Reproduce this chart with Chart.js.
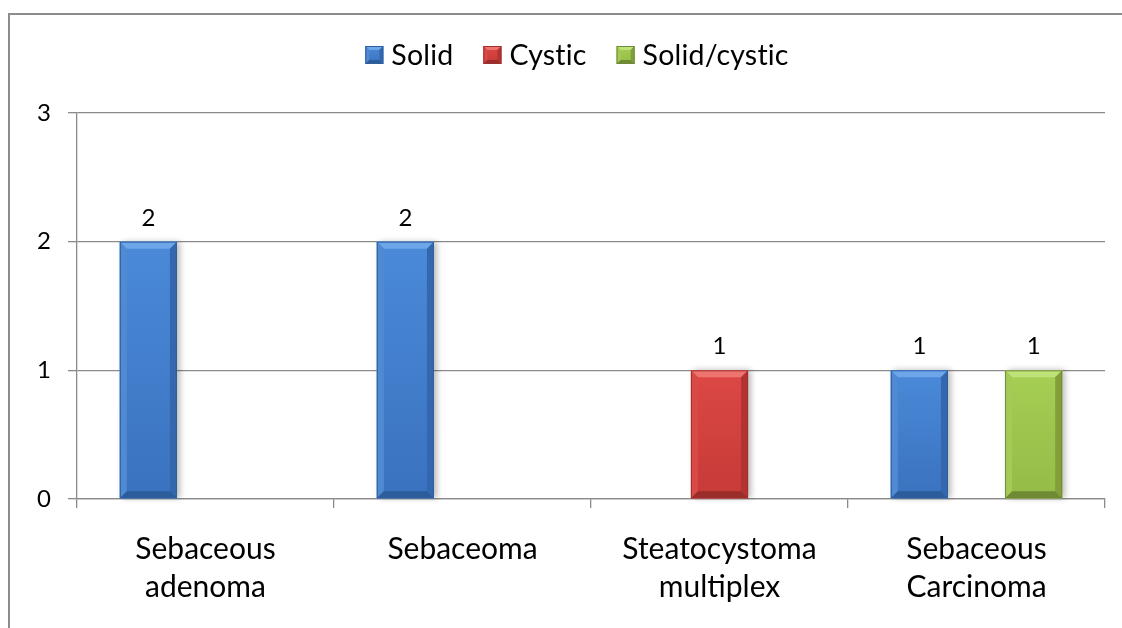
<!DOCTYPE html>
<html>
<head>
<meta charset="utf-8">
<script src="https://cdn.jsdelivr.net/npm/chart.js@4.4.1/dist/chart.umd.min.js"></script>
<style>
  html, body { margin: 0; padding: 0; background: #fff; overflow: hidden; }
  #frame { position: absolute; left: 8px; top: 13px; width: 1300px; height: 800px;
           border-left: 2px solid #8c8c8c; border-top: 2px solid #8c8c8c; }
  #wrap { position: absolute; left: 0; top: 0; width: 1122px; height: 628px; }
</style>
</head>
<body>
<div id="frame"></div>
<div id="wrap"><canvas id="c" width="1122" height="628"></canvas></div>
<script>
// Lesion types and counts per growth pattern
const categories = [["Sebaceous", "adenoma"], ["Sebaceoma"], ["Steatocystoma", "multiplex"], ["Sebaceous", "Carcinoma"]];
const seriesNames = ["Solid", "Cystic", "Solid/cystic"];
const solid = [2, 2, null, 1];
const cystic = [null, null, 1, null];
const solidCystic = [null, null, null, 1];
const yTicks = [0, 1, 2, 3];

// Bevelled fill shades for each series
const palettes = [
  { faceTop: "#4a8ad8", faceBot: "#3a72bf", top: "#6ea6ea", left: "#4f8ad3", right: "#3467ad", bottom: "#2d5c9a", edge: "#2f5f9e" },
  { faceTop: "#dc4845", faceBot: "#c63a37", top: "#ee7470", left: "#d94a47", right: "#b23330", bottom: "#9a2c2a", edge: "#a0302d" },
  { faceTop: "#a6cf55", faceBot: "#94bb47", top: "#c0e27a", left: "#a3cb56", right: "#839f3c", bottom: "#708a34", edge: "#6f8a35" }
];

const FONT = "Lato, 'Open Sans', sans-serif";

function poly(ctx, pts, fill) {
  ctx.beginPath();
  ctx.moveTo(pts[0][0], pts[0][1]);
  for (let i = 1; i < pts.length; i++) ctx.lineTo(pts[i][0], pts[i][1]);
  ctx.closePath();
  ctx.fillStyle = fill;
  ctx.fill();
}

function bevelBox(ctx, l, t, r, b, k, pal) {
  const g = ctx.createLinearGradient(0, t, 0, b);
  g.addColorStop(0, pal.faceTop);
  g.addColorStop(1, pal.faceBot);
  ctx.fillStyle = g;
  ctx.fillRect(l, t, r - l, b - t);
  poly(ctx, [[l, t], [r, t], [r - k, t + k], [l + k, t + k]], pal.top);
  poly(ctx, [[l, t], [l + k, t + k], [l + k, b - k], [l, b]], pal.left);
  poly(ctx, [[r, t], [r - k, t + k], [r - k, b - k], [r, b]], pal.right);
  poly(ctx, [[l, b], [r, b], [r - k, b - k], [l + k, b - k]], pal.bottom);
  ctx.strokeStyle = pal.edge;
  ctx.lineWidth = 1;
  ctx.strokeRect(l + 0.5, t + 0.5, r - l - 1, b - t - 1);
}

function barRect(bar) {
  const p = bar.getProps(["x", "y", "base", "width"], true);
  return { l: p.x - p.width / 2, r: p.x + p.width / 2, t: Math.min(p.y, p.base), b: Math.max(p.y, p.base), x: p.x };
}

// Soft shadow behind bars, bevel on top, value labels above
const barStyle = {
  id: "barStyle",
  beforeDatasetsDraw(chart) {
    const ctx = chart.ctx;
    ctx.save();
    ctx.shadowColor = "rgba(0,0,0,0.28)";
    ctx.shadowBlur = 6;
    ctx.shadowOffsetX = 3;
    ctx.shadowOffsetY = 0;
    chart.data.datasets.forEach((ds, i) => {
      chart.getDatasetMeta(i).data.forEach((bar, j) => {
        if (ds.data[j] == null) return;
        const r = barRect(bar);
        ctx.fillStyle = "#fff";
        ctx.fillRect(r.l, r.t, r.r - r.l, r.b - r.t);
      });
    });
    ctx.restore();
  },
  afterDatasetsDraw(chart) {
    const ctx = chart.ctx;
    ctx.save();
    chart.data.datasets.forEach((ds, i) => {
      const pal = palettes[i];
      chart.getDatasetMeta(i).data.forEach((bar, j) => {
        if (ds.data[j] == null) return;
        const r = barRect(bar);
        bevelBox(ctx, r.l, r.t, r.r, r.b, 7, pal);
        ctx.fillStyle = "#000";
        ctx.font = "24px " + FONT;
        ctx.textAlign = "center";
        ctx.textBaseline = "alphabetic";
        ctx.fillText(String(ds.data[j]), r.x, r.t - 16);
      });
    });
    ctx.restore();
  }
};

// Legend row across the top
const legendRow = {
  id: "legendRow",
  afterDraw(chart) {
    const ctx = chart.ctx;
    ctx.save();
    ctx.font = "28.5px " + FONT;
    if ("letterSpacing" in ctx) ctx.letterSpacing = "0.2px";
    const box = 18, gapText = 8, gapItem = 30;
    const items = chart.data.datasets.map((ds, i) => ({ label: ds.label, w: ctx.measureText(ds.label).width, pal: palettes[i] }));
    let total = 0;
    items.forEach((it, i) => { total += box + gapText + it.w + (i < items.length - 1 ? gapItem : 0); });
    let x = 577 - total / 2;
    const cy = 55;
    items.forEach(it => {
      bevelBox(ctx, x, cy - box / 2, x + box, cy + box / 2, 4, it.pal);
      ctx.fillStyle = "#000";
      ctx.textAlign = "left";
      ctx.textBaseline = "alphabetic";
      ctx.fillText(it.label, x + box + gapText, cy + 10);
      x += box + gapText + it.w + gapItem;
    });
    ctx.restore();
  }
};

const seriesData = [solid, cystic, solidCystic];

new Chart(document.getElementById("c"), {
  type: "bar",
  data: {
    labels: categories,
    datasets: seriesNames.map((name, i) => ({
      label: name,
      data: seriesData[i],
      backgroundColor: palettes[i].faceTop,
      borderWidth: 0,
      categoryPercentage: 0.6667,
      barPercentage: 1
    }))
  },
  options: {
    responsive: false,
    devicePixelRatio: 1,
    animation: false,
    layout: { padding: { top: 113, right: 17, left: 0, bottom: 0 } },
    plugins: { legend: { display: false }, tooltip: { enabled: false } },
    scales: {
      x: {
        afterFit(s) { s.height = 129; },
        grid: { display: true, drawOnChartArea: false, drawTicks: true, tickLength: 9, offset: true, color: "#8a8a8a", lineWidth: 1.3 },
        border: { display: true, color: "#8a8a8a", width: 1.3 },
        ticks: { color: "#000", font: { family: FONT, size: 30, lineHeight: 1.27 }, padding: 22, maxRotation: 0, autoSkip: false }
      },
      y: {
        min: 0,
        max: 3,
        afterFit(s) { s.width = 77; },
        afterBuildTicks(s) { s.ticks = yTicks.map(v => ({ value: v })); },
        grid: { color: "#8a8a8a", lineWidth: 1.3, tickLength: 9, drawTicks: true },
        border: { display: true, color: "#8a8a8a", width: 1.3 },
        ticks: { color: "#000", font: { family: FONT, size: 24 }, padding: 17 }
      }
    }
  },
  plugins: [barStyle, legendRow]
});
</script>
</body>
</html>
